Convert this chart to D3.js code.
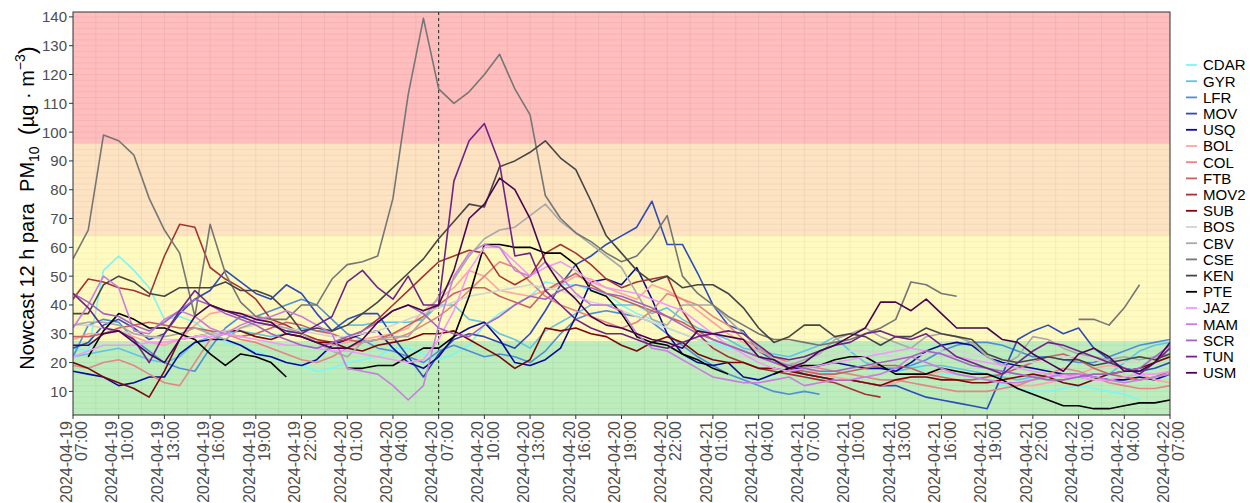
<!DOCTYPE html>
<html>
<head>
<meta charset="utf-8">
<script src="https://cdn.jsdelivr.net/npm/d3@7"></script>
<style>
  body { margin: 0; background: #fff; }
  text { font-family: "Liberation Sans", Arial, sans-serif; }
</style>
</head>
<body>
<script>
// hourly Nowcast PM10, 2024-04-19 07:00 .. 2024-04-22 07:00 (73 points)
const start = new Date(2024, 3, 19, 7);
const hours = d3.range(73).map(h => d3.timeHour.offset(start, h));
const eventTime = new Date(2024, 3, 20, 7);

const stations = ["CDAR","GYR","LFR","MOV","USQ","BOL","COL","FTB","MOV2","SUB",
                  "BOS","CBV","CSE","KEN","PTE","JAZ","MAM","SCR","TUN","USM"];
const colors = ["#7cf6f2","#62c3e3","#4f8fd6","#2e4cb8","#0a0a96","#ffa3a3","#e58585","#c86262",
                "#a33434","#7a0808","#d3d3d3","#a9a9a9","#767676","#454545","#000000",
                "#f09af8","#c97ddf","#a263c2","#6e2488","#470552"];

// air-quality bands (ug/m3)
const bandBreaks = [0, 27.5, 64, 96, 160];
const bandColors = ["#bdedbd", "#fffbc0", "#fde3c2", "#ffbdbd"];
const yTicks = d3.range(10, 141, 10);

const N = null;
const CDAR = [25,24,52,57,52,46,35,36,34,30,27,26, 24,22,20,19,17,18,20,21,22,25,25,23,
  21,23,26,33,37,40,43,48,47,47,45,44, 40,37,35,32,30,28,27,25,24,22,20,18,
  17,17,16,17,18,18,18,19,17,16,16,15, 14,12,11,10,10,11,12,11,10,9,7,N,N];
const GYR = [22,23,24,25,23,21,20,22,27,29,30,31, 30,29,30,32,31,31,33,33,34,34,34,35,
  40,40,35,34,30,28,25,31,34,37,40,40, 40,40,37,39,35,32,30,28,25,24,23,22,
  24,26,29,24,20,18,17,18,19,19,18,17, 16,15,14,15,15,16,15,14,16,20,24,26,27];
const LFR = [22,33,35,34,28,24,20,18,17,25,32,36, 36,38,40,42,40,35,30,28,25,24,22,20,
  24,26,24,22,23,22,20,24,30,35,37,38, 37,36,34,30,26,22,19,16,14,12,10,9,
  10,9,N,N,N,18,18,19,21,24,26,27, 27,26,24,22,22,21,20,20,22,24,26,27,28];
const MOV = [25,27,33,35,32,28,30,37,42,45,52,48, 44,42,47,44,37,31,35,37,37,29,22,15,
  23,28,30,29,27,25,30,38,47,54,57,61, 64,67,76,61,61,51,40,33,31,24,21,18,
  16,15,14,14,13,12,12,10,8,7,6,5, 4,16,28,31,33,30,32,25,21,18,17,18,20];
const USQ = [17,16,15,12,13,15,15,23,27,28,28,26, 23,22,20,19,21,26,28,30,31,25,20,18,
  22,29,32,34,28,20,19,21,25,36,48,49, 47,53,42,30,23,20,19,20,15,14,16,18,
  18,19,20,19,18,18,17,20,24,26,27,26, 22,20,19,18,17,16,16,15,14,14,15,14,16];
const BOL = [28,30,30,31,29,27,26,28,33,37,38,37, 36,34,33,30,28,26,27,28,29,30,32,38,
  42,46,52,50,45,44,43,45,47,50,49,46, 44,42,47,45,42,38,34,30,27,24,22,20,
  18,16,15,14,13,12,13,15,16,17,16,15, 14,13,12,12,13,14,16,18,19,18,16,14,13];
const COL = [19,18,20,21,19,16,13,12,20,28,30,28, 27,25,23,21,20,22,25,27,28,28,30,33,
  36,40,45,50,55,53,48,43,40,38,36,34, 32,34,38,44,42,40,36,33,28,25,22,20,
  19,18,17,16,15,14,14,13,12,11,10,10, 10,11,12,14,16,18,17,15,13,12,11,11,12];
const FTB = [29,29,30,32,33,34,33,32,32,31,30,29, 30,32,34,33,31,30,28,27,28,30,33,36,
  40,44,46,46,43,41,39,45,48,51,47,44, 42,40,38,36,34,31,28,26,24,22,20,18,
  17,16,16,17,18,19,19,18,16,15,14,14, 15,16,18,20,22,23,21,18,16,15,14,15,17];
const MOV2 = [42,49,48,46,45,43,57,68,67,53,49,46, 42,35,33,30,28,27,28,31,35,40,45,50,
  55,57,59,58,50,47,50,58,61,58,54,49, 46,48,49,50,38,30,25,22,20,18,17,16,
  15,14,13,11,9,8,N,N,N,N,N,N, N,N,N,N,N,N,N,N,N,N,N,N,N];
const SUB = [20,18,15,13,11,8,17,28,29,30,31,31, 29,28,30,29,27,27,25,24,26,27,28,30,
  30,31,28,25,22,18,21,32,31,32,30,29, 26,24,27,29,27,23,21,20,20,18,18,17,
  16,15,14,14,13,12,14,15,15,14,14,13, 13,14,15,16,15,13,12,14,16,17,18,20,22];
const BOS = [33,33,32,31,30,29,28,28,29,30,31,32, 33,33,32,31,30,29,29,30,31,33,35,37,
  39,41,43,44,45,46,47,46,45,43,41,40, 38,36,34,32,30,28,26,24,22,21,20,20,
  21,22,23,24,24,23,22,22,23,24,24,23, 22,21,20,20,21,22,22,21,20,20,21,22,23];
const CBV = [33,34,34,33,30,29,29,30,32,30,28,32, 34,33,32,30,27,24,22,27,28,29,29,35,
  43,49,57,63,66,67,71,75,69,65,61,57, 53,44,35,33,40,40,40,35,30,25,21,19,
  21,23,28,30,32,29,27,25,29,30,29,27, 22,19,22,29,28,25,23,22,21,22,21,22,23];
const CSE = [56,66,99,97,92,77,66,58,36,68,51,41, 36,35,35,40,40,49,54,55,57,77,113,139.5,
  115,110,114,120,127,115,106,78,70,65,62,58, 55,57,63,71,50,44,40,36,33,30,28,28,
  27,26,27,28,30,32,35,48,47,44,43,N, N,N,N,N,N,N,35,35,33,39,47,N,N];
const KEN = [37,37,47,50,48,44,43,46,46,46,48,45, 45,43,38,31,32,31,33,37,41,46,51,56,
  63,69,75,74,88,90,93,97,91,87,76,64, 58,52,48,50,46,47,47,44,39,32,27,29,
  33,33,29,30,29,26,29,29,32,30,29,28, 23,21,20,21,22,21,21,19,20,21,22,21,23];
const PTE = [N,22,31,37,35,32,32,30,28,23,19,23, 22,20,15,N,N,N,18,18,19,19,22,25,
  25,29,43,61,61,60,60,58,58,54,45,43, 37,29,27,26,23,21,18,16,N,N,16,18,
  19,19,21,22,22,19,16,16,16,18,17,16, 16,14,11,9,7,5,5,4,4,5,6,6,7];
const JAZ = [22,24,26,26,26,27,27,28,29,29,30,29, 28,27,26,26,25,24,24,23,22,21,20,21,
  28,38,52,60,60,55,50,53,55,52,48,46, 45,44,42,40,38,34,30,26,23,20,18,17,
  18,19,20,21,22,23,24,25,24,23,22,21, 20,19,18,17,16,15,15,14,14,15,16,16,17];
const MAM = [32,40,50,46,31,30,35,38,36,32,30,33, 35,36,38,36,33,30,18,17,16,12,7,12,
  33,50,58,61,60,52,50,55,50,44,40,40, 38,30,25,24,21,18,15,14,13,13,14,15,
  12,13,14,14,15,16,18,22,20,18,16,15, 14,13,13,14,15,16,16,15,14,13,14,15,16];
const SCR = [44,41,37,36,33,31,34,38,42,40,37,35, 33,30,28,26,25,27,29,31,34,38,40,37,
  32,30,29,33,36,40,43,42,45,47,46,44, 43,41,39,36,33,30,28,26,24,22,20,19,
  18,17,17,18,19,20,21,22,24,23,21,19, 18,17,16,15,14,14,15,16,16,17,18,22,26];
const TUN = [44,39,32,31,28,20,30,38,45,40,38,36, 34,33,31,30,33,36,48,52,46,42,50,40,
  40,83,97,103,89,57,58,45,40,35,32,30, 30,28,26,25,27,29,30,31,30,26,22,21,
  22,24,26,27,30,31,29,28,30,26,22,20, 18,16,20,24,27,26,24,22,20,18,16,20,25];
const USM = [26,26,30,31,27,23,20,28,36,40,38,37, 35,34,30,29,27,25,25,28,34,38,40,38,
  40,52,70,75,84,80,70,55,47,42,36,33, 32,30,28,27,25,31,30,29,28,22,21,18,
  20,24,26,29,32,41,41,38,42,37,32,32, 32,28,27,23,20,17,23,25,22,17,17,20,27];

const seriesValues = [CDAR,GYR,LFR,MOV,USQ,BOL,COL,FTB,MOV2,SUB,BOS,CBV,CSE,KEN,PTE,JAZ,MAM,SCR,TUN,USM];

const W = 1250, H = 503;
const m = { left: 73, right: 1170, top: 12, bottom: 415 };

const svg = d3.select("body").append("svg")
  .attr("width", W).attr("height", H);

const x = d3.scaleTime()
  .domain([hours[0], hours[hours.length - 1]])
  .range([m.left, m.right]);

const y = d3.scaleLinear()
  .domain([1.8, 141.7])
  .range([m.bottom, m.top]);

svg.append("defs").append("clipPath").attr("id", "clip")
  .append("rect")
  .attr("x", m.left).attr("y", m.top)
  .attr("width", m.right - m.left).attr("height", m.bottom - m.top);

const panel = svg.append("g").attr("clip-path", "url(#clip)");

// bands
panel.selectAll("rect.band")
  .data(bandColors)
  .enter().append("rect")
    .attr("class", "band")
    .attr("x", m.left)
    .attr("width", m.right - m.left)
    .attr("y", (d, i) => y(bandBreaks[i + 1]))
    .attr("height", (d, i) => y(bandBreaks[i]) - y(bandBreaks[i + 1]))
    .attr("fill", d => d);

// grid
const xTicks = d3.range(0, 73, 3).map(h => d3.timeHour.offset(start, h));
const xMinor = d3.range(0, 145, 3).map(h => new Date(+start + h * 30 * 60 * 1000));
panel.append("g").selectAll("line")
  .data(xMinor)
  .enter().append("line")
    .attr("x1", d => x(d)).attr("x2", d => x(d))
    .attr("y1", m.top).attr("y2", m.bottom)
    .attr("stroke", "rgba(0,0,0,0.05)")
    .attr("stroke-width", 1);
panel.append("g").selectAll("line")
  .data(d3.range(2, 142, 2))
  .enter().append("line")
    .attr("x1", m.left).attr("x2", m.right)
    .attr("y1", d => y(d)).attr("y2", d => y(d))
    .attr("stroke", "rgba(0,0,0,0.045)")
    .attr("stroke-width", 1);

// event marker
panel.append("line")
  .attr("x1", x(eventTime)).attr("x2", x(eventTime))
  .attr("y1", m.top).attr("y2", m.bottom)
  .attr("stroke", "#222")
  .attr("stroke-width", 1)
  .attr("stroke-dasharray", "3,3");

// station lines
const line = d3.line()
  .defined(d => d != null)
  .x((d, i) => x(hours[i]))
  .y(d => y(d));

panel.append("g").selectAll("path")
  .data(seriesValues)
  .enter().append("path")
    .attr("d", line)
    .attr("fill", "none")
    .attr("stroke", (d, i) => colors[i])
    .attr("stroke-width", 1.6)
    .attr("stroke-linejoin", "round");

// panel border
svg.append("rect")
  .attr("x", m.left).attr("y", m.top)
  .attr("width", m.right - m.left).attr("height", m.bottom - m.top)
  .attr("fill", "none")
  .attr("stroke", "#333")
  .attr("stroke-width", 1);

// y axis
const yAxis = svg.append("g");
yAxis.selectAll("line")
  .data(yTicks)
  .enter().append("line")
    .attr("x1", m.left - 4).attr("x2", m.left)
    .attr("y1", d => y(d)).attr("y2", d => y(d))
    .attr("stroke", "#333");
yAxis.selectAll("text")
  .data(yTicks)
  .enter().append("text")
    .attr("x", m.left - 6)
    .attr("y", d => y(d))
    .attr("dy", "0.36em")
    .attr("text-anchor", "end")
    .attr("font-size", 15)
    .attr("fill", "#4d4d4d")
    .text(d => d);

// x axis
const fmtDate = d3.timeFormat("%Y-%m-%d");
const fmtHour = d3.timeFormat("%H:%M");
const xAxis = svg.append("g");
xAxis.selectAll("line")
  .data(xTicks)
  .enter().append("line")
    .attr("x1", d => x(d)).attr("x2", d => x(d))
    .attr("y1", m.bottom).attr("y2", m.bottom + 4)
    .attr("stroke", "#333");
const xl = xAxis.selectAll("g.lab")
  .data(xTicks)
  .enter().append("g")
    .attr("class", "lab")
    .attr("transform", d => "translate(" + x(d) + "," + (m.bottom + 6) + ")rotate(-90)");
xl.append("text")
  .attr("x", 0).attr("y", -7)
  .attr("dy", "0.36em")
  .attr("text-anchor", "end")
  .attr("font-size", 16)
  .attr("fill", "#4d4d4d")
  .text(d => fmtDate(d));
xl.append("text")
  .attr("x", 0).attr("y", 8.5)
  .attr("dy", "0.36em")
  .attr("text-anchor", "end")
  .attr("font-size", 16)
  .attr("fill", "#4d4d4d")
  .text(d => fmtHour(d));

// y title
const title = svg.append("text")
  .attr("transform", "translate(34,208)rotate(-90)")
  .attr("text-anchor", "middle")
  .attr("font-size", 20)
  .attr("fill", "#000");
title.append("tspan").text("Nowcast 12 h para\u00a0\u00a0PM");
title.append("tspan").attr("font-size", 14).attr("dy", 5).text("10");
title.append("tspan").attr("dy", -5).text("\u00a0\u00a0");
title.append("tspan").attr("font-size", 24).attr("dy", 1).text("(");
title.append("tspan").attr("dy", -1).text("\u00b5g\u00a0\u00b7\u00a0m");
title.append("tspan").attr("font-size", 14).attr("dy", -9).text("\u22123");
title.append("tspan").attr("font-size", 24).attr("dy", 10).text(")");

// legend
const legend = svg.append("g");
const li = legend.selectAll("g")
  .data(stations)
  .enter().append("g")
    .attr("transform", (d, i) => "translate(1185," + (65 + i * 16.2) + ")");
li.append("line")
  .attr("x1", 1).attr("x2", 12)
  .attr("stroke", (d, i) => colors[i])
  .attr("stroke-width", 1.8);
li.append("text")
  .attr("x", 18)
  .attr("dy", "0.36em")
  .attr("font-size", 15)
  .attr("fill", "#000")
  .text(d => d);
</script>
</body>
</html>
